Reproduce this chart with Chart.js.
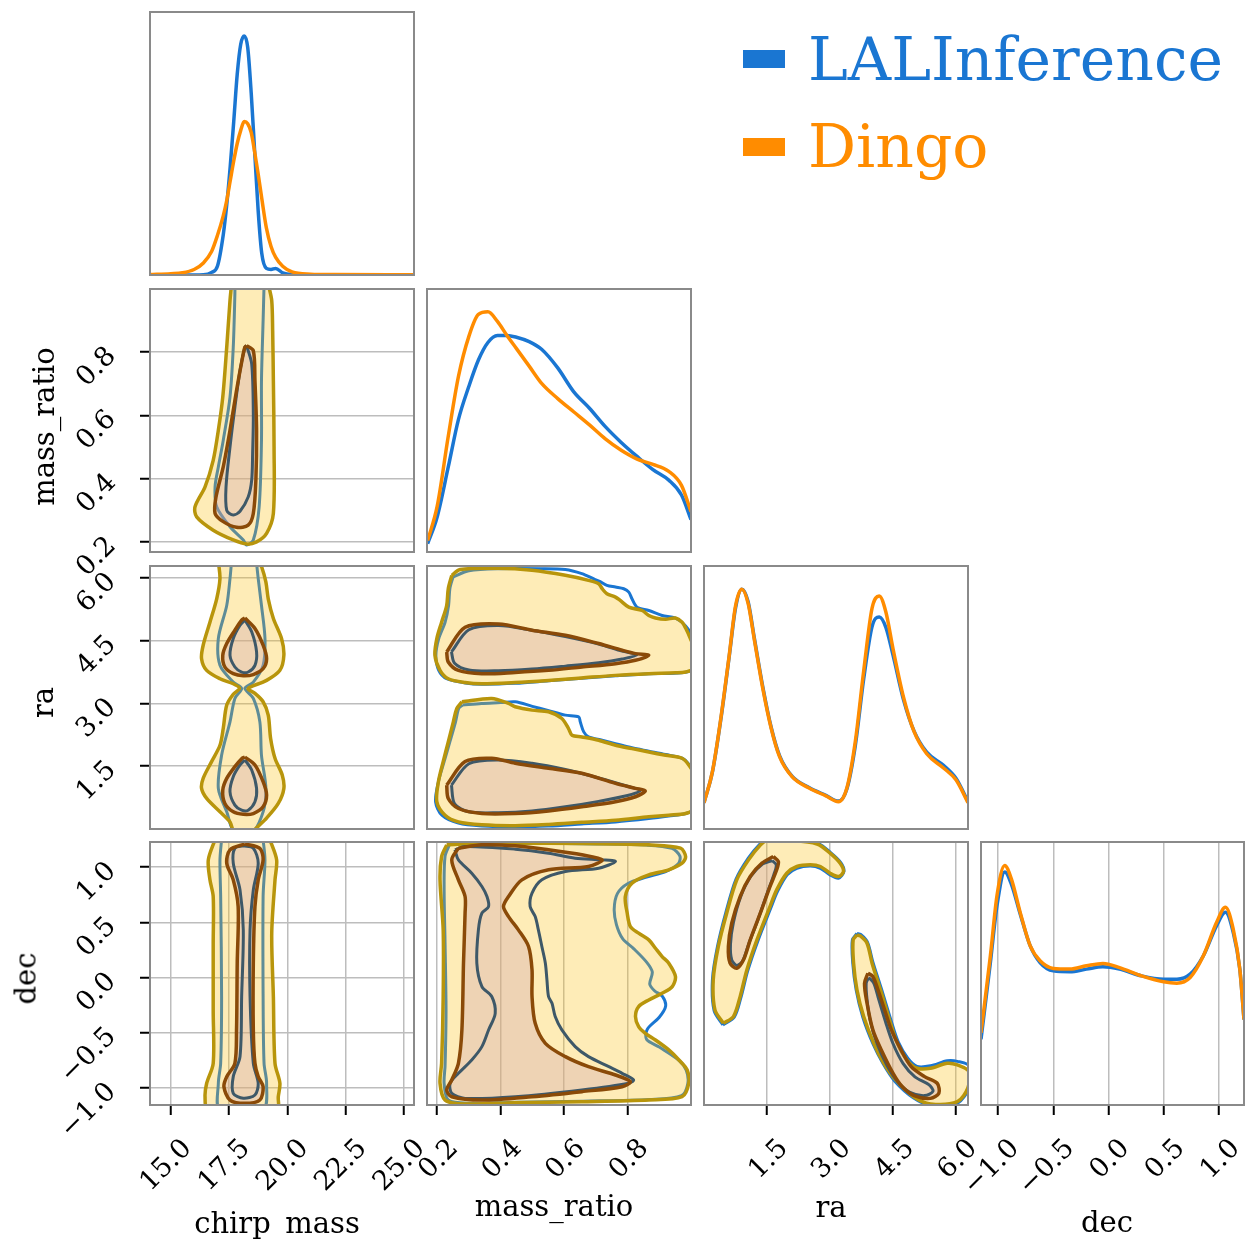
<!DOCTYPE html>
<html><head><meta charset="utf-8">
<script src="https://cdn.jsdelivr.net/npm/chart.js@4.4.0/dist/chart.umd.min.js"></script>
<style>
html,body{margin:0;padding:0;background:#fff;overflow:hidden;}
#wrap{position:relative;width:1245px;height:1239px;background:#fff;overflow:hidden;}
canvas{position:absolute;left:0;top:0;}
.t{position:absolute;font-family:'DejaVu Serif',serif;white-space:nowrap;line-height:1;color:#000;}
</style></head><body><div id="wrap"></div>
<script>
// ---------------- DATA ----------------
const params = ['chirp_mass', 'mass_ratio', 'ra', 'dec'];
const seriesNames = ['LALInference', 'Dingo'];
const axisRanges = { chirp_mass: [14.11, 25.43], mass_ratio: [0.168, 1.0], ra: [0, 6.283], dec: [-1.155, 1.228] };
const tickValues = { chirp_mass: [15, 17.5, 20, 22.5, 25], mass_ratio: [0.2, 0.4, 0.6, 0.8], ra: [1.5, 3.0, 4.5, 6.0], dec: [-1, -0.5, 0, 0.5, 1] };
const diagMax = { chirp_mass: 1.2, mass_ratio: 3.0, ra: 0.5, dec: 1.2 };

// 1D marginal densities
const chirpGrid  = [14.1, 15.0, 15.5, 16.0, 16.4, 16.75, 17.0, 17.25, 17.4, 17.55, 17.7, 17.85, 18.0, 18.15, 18.3, 18.45, 18.6, 18.75, 18.9, 19.1, 19.3, 19.5, 19.8, 20.2, 21.0, 22.0, 25.4];
const chirpLAL   = [0, 0, 0, 0, 0.001, 0.012, 0.04, 0.183, 0.32, 0.495, 0.70, 0.916, 1.053, 1.091, 1.038, 0.83, 0.56, 0.29, 0.10, 0.03, 0.025, 0.03, 0.01, 0.002, 0, 0, 0];
const chirpDingo = [0.002, 0.006, 0.01, 0.025, 0.055, 0.107, 0.18, 0.27, 0.34, 0.43, 0.52, 0.60, 0.66, 0.70, 0.69, 0.65, 0.56, 0.46, 0.351, 0.215, 0.13, 0.08, 0.04, 0.014, 0.004, 0.002, 0.001];

const massGrid  = [0.17, 0.2, 0.235, 0.267, 0.3, 0.33, 0.36, 0.39, 0.42, 0.45, 0.49, 0.53, 0.58, 0.63, 0.68, 0.73, 0.78, 0.83, 0.88, 0.93, 0.97, 1.0];
const massLAL   = [0.095, 0.40, 0.97, 1.51, 1.89, 2.19, 2.39, 2.47, 2.47, 2.45, 2.40, 2.31, 2.10, 1.83, 1.64, 1.43, 1.25, 1.09, 0.94, 0.82, 0.65, 0.37];
const massDingo = [0.13, 0.52, 1.32, 2.00, 2.46, 2.71, 2.74, 2.63, 2.47, 2.32, 2.12, 1.92, 1.75, 1.60, 1.45, 1.29, 1.16, 1.06, 1.00, 0.92, 0.76, 0.46];

const raGrid  = [0, 0.2, 0.4, 0.6, 0.75, 0.9, 1.05, 1.2, 1.4, 1.6, 1.8, 2.1, 2.5, 2.9, 3.2, 3.4, 3.6, 3.8, 4.0, 4.17, 4.33, 4.5, 4.75, 5.0, 5.3, 5.7, 6.0, 6.283];
const raLAL   = [0.050, 0.108, 0.208, 0.328, 0.420, 0.456, 0.432, 0.362, 0.270, 0.193, 0.139, 0.100, 0.079, 0.064, 0.053, 0.076, 0.158, 0.285, 0.385, 0.403, 0.383, 0.330, 0.245, 0.186, 0.146, 0.121, 0.096, 0.052];
const raDingo = [0.050, 0.109, 0.210, 0.330, 0.424, 0.456, 0.429, 0.359, 0.267, 0.191, 0.137, 0.099, 0.078, 0.063, 0.052, 0.078, 0.166, 0.300, 0.420, 0.443, 0.412, 0.342, 0.250, 0.185, 0.143, 0.116, 0.093, 0.050];

const decGrid  = [-1.155, -1.07, -1.01, -0.94, -0.88, -0.8, -0.71, -0.62, -0.5, -0.35, -0.2, -0.05, 0.1, 0.3, 0.5, 0.62, 0.74, 0.86, 0.98, 1.06, 1.13, 1.19, 1.228];
const decLAL   = [0.30, 0.650, 0.910, 1.063, 1.008, 0.872, 0.727, 0.650, 0.612, 0.608, 0.620, 0.631, 0.620, 0.589, 0.574, 0.574, 0.597, 0.681, 0.818, 0.879, 0.788, 0.620, 0.39];
const decDingo = [0.33, 0.681, 0.956, 1.093, 1.032, 0.879, 0.727, 0.658, 0.623, 0.620, 0.635, 0.646, 0.627, 0.589, 0.562, 0.556, 0.582, 0.681, 0.834, 0.902, 0.803, 0.620, 0.39];

// 2D credible contours (outer / inner), each a list of closed pieces of [x, y]
const mqChirpLalOuter = [[[17.75,1.01],[17.75,0.984],[17.68,0.816],[17.54,0.658],[17.25,0.521],[17.04,0.437],[16.90,0.374],[16.97,0.311],[17.54,0.248],[18.11,0.206],[18.25,0.19],[18.54,0.206],[18.79,0.311],[18.89,0.521],[18.89,0.71],[18.96,0.90],[19.0,1.01]]];
const mqChirpLalInner = [[[18.25,0.821],[18.47,0.763],[18.54,0.605],[18.51,0.479],[18.47,0.395],[18.32,0.342],[17.97,0.297],[17.68,0.285],[17.40,0.300],[17.37,0.374],[17.54,0.500],[17.75,0.626],[17.97,0.742],[18.18,0.816],[18.25,0.821]]];
const mqChirpDingoOuter = [[[17.6,1.01],[17.54,0.963],[17.40,0.816],[17.23,0.658],[17.04,0.553],[16.82,0.458],[16.47,0.374],[16.04,0.311],[16.11,0.279],[16.82,0.237],[17.68,0.206],[18.25,0.193],[18.68,0.20],[19.11,0.227],[19.40,0.29],[19.43,0.50],[19.40,0.71],[19.37,0.868],[19.33,0.963],[19.2,1.01]]];
const mqChirpDingoInner = [[[18.25,0.821],[18.54,0.805],[18.61,0.71],[18.68,0.553],[18.65,0.395],[18.54,0.29],[18.32,0.253],[17.82,0.246],[17.25,0.264],[16.90,0.29],[16.94,0.342],[17.25,0.437],[17.54,0.553],[17.82,0.679],[18.08,0.784],[18.18,0.816],[18.25,0.821]]];

const raChirpLalOuter = [[[17.6,6.35],[17.54,5.98],[17.40,5.34],[17.04,4.55],[17.11,3.91],[17.68,3.51],[18.04,3.36],[17.75,3.12],[17.54,2.56],[17.18,1.76],[17.04,0.97],[17.40,0.41],[17.75,-0.1],[18.47,-0.1],[18.96,0.41],[19.08,0.97],[18.89,1.76],[18.82,2.56],[18.54,3.12],[18.18,3.36],[18.54,3.51],[18.96,3.91],[19.04,4.55],[18.89,5.34],[18.75,5.98],[18.68,6.35]]];
const raChirpLalInner = [
  [[18.18,4.99],[18.47,4.71],[18.68,4.23],[18.61,3.91],[18.32,3.75],[18.04,3.75],[17.75,3.87],[17.54,4.15],[17.68,4.55],[17.97,4.87],[18.18,4.99]],
  [[18.18,1.65],[18.47,1.41],[18.68,0.97],[18.61,0.65],[18.32,0.45],[18.04,0.45],[17.75,0.57],[17.54,0.89],[17.68,1.25],[17.97,1.53],[18.18,1.65]]];
const raChirpDingoOuter = [[[17.05,6.35],[17.11,5.98],[16.97,5.50],[16.68,4.94],[16.39,4.39],[16.32,4.07],[16.54,3.79],[17.11,3.59],[17.68,3.47],[17.95,3.36],[17.68,3.22],[17.40,2.96],[17.25,2.40],[17.11,2.00],[16.75,1.61],[16.39,1.21],[16.32,0.97],[16.54,0.73],[17.11,0.41],[17.54,0.17],[17.75,-0.10],[18.50,-0.10],[18.61,-0.01],[19.11,0.26],[19.61,0.61],[19.85,0.97],[19.78,1.29],[19.47,1.69],[19.28,2.17],[19.18,2.72],[18.96,3.04],[18.61,3.24],[18.32,3.34],[18.40,3.39],[19.11,3.55],[19.68,3.79],[19.85,4.15],[19.75,4.55],[19.40,5.03],[19.18,5.50],[19.08,5.90],[18.90,6.26],[18.80,6.35]]];
const raChirpDingoInner = [
  [[18.18,5.04],[18.61,4.79],[18.96,4.39],[19.11,4.07],[18.96,3.83],[18.54,3.69],[18.11,3.66],[17.68,3.71],[17.32,3.87],[17.23,4.15],[17.40,4.43],[17.75,4.75],[18.04,4.99],[18.18,5.04]],
  [[18.18,1.72],[18.61,1.53],[18.96,1.13],[19.11,0.81],[18.96,0.53],[18.54,0.37],[18.11,0.35],[17.68,0.41],[17.32,0.61],[17.23,0.93],[17.40,1.21],[17.75,1.49],[18.04,1.68],[18.18,1.72]]];

const decChirpLalOuter = [[[17.18,1.25],[17.11,1.066],[17.14,0.734],[17.18,-0.173],[17.14,-0.777],[17.04,-0.958],[17.11,-1.2],[18.96,-1.2],[19.11,-0.958],[19.0,-0.777],[18.96,-0.173],[18.96,0.734],[19.04,1.066],[18.96,1.25]]];
const decChirpLalInner = [[[18.11,1.193],[18.54,1.172],[18.75,1.036],[18.54,0.794],[18.40,0.431],[18.40,-0.173],[18.54,-0.777],[18.75,-0.958],[18.61,-1.064],[18.11,-1.094],[17.68,-1.049],[17.68,-0.898],[17.97,-0.717],[18.04,-0.173],[18.11,0.431],[17.97,0.794],[17.68,1.036],[17.75,1.172],[18.11,1.193]]];
const decChirpDingoOuter = [[[16.9,1.25],[16.61,1.066],[16.68,0.885],[16.82,0.734],[16.82,0.3],[16.82,-0.3],[16.82,-0.777],[16.54,-0.958],[16.47,-1.08],[16.6,-1.2],[19.55,-1.2],[19.61,-1.08],[19.68,-0.958],[19.47,-0.777],[19.40,-0.173],[19.33,0.4],[19.47,0.885],[19.54,1.066],[19.25,1.25]]];
const decChirpDingoInner = [[[18.18,1.21],[18.82,1.17],[18.96,1.066],[18.75,0.885],[18.61,0.643],[18.54,0.129],[18.54,-0.475],[18.61,-0.777],[18.75,-0.898],[18.96,-0.989],[18.82,-1.11],[18.18,-1.14],[17.54,-1.11],[17.28,-0.989],[17.40,-0.898],[17.75,-0.777],[17.82,-0.475],[17.85,0.129],[17.89,0.643],[17.68,0.885],[17.40,1.036],[17.54,1.157],[18.18,1.21]]];

const raMqLalOuter = [
  [[0.25,6.02],[0.30,6.17],[0.40,6.22],[0.525,6.22],[0.604,6.20],[0.656,6.10],[0.698,5.96],[0.714,5.91],[0.735,5.82],[0.762,5.78],[0.788,5.74],[0.804,5.66],[0.814,5.50],[0.830,5.30],[0.867,5.22],[0.909,5.10],[0.951,5.04],[0.983,4.85],[1.01,4.5],[1.01,3.85],[0.97,3.73],[0.867,3.71],[0.762,3.66],[0.656,3.60],[0.551,3.54],[0.446,3.48],[0.341,3.46],[0.288,3.49],[0.230,3.59],[0.205,3.79],[0.196,4.15],[0.205,4.55],[0.225,4.94],[0.236,5.34],[0.240,5.74],[0.25,6.02]],
  [[0.28,2.96],[0.34,3.00],[0.40,3.02],[0.446,3.04],[0.50,2.93],[0.546,2.84],[0.604,2.72],[0.646,2.68],[0.651,2.56],[0.662,2.32],[0.677,2.20],[0.720,2.12],[0.762,2.04],[0.814,1.94],[0.867,1.86],[0.920,1.78],[0.972,1.69],[0.993,1.55],[1.01,1.3],[1.01,0.5],[0.983,0.37],[0.930,0.31],[0.867,0.25],[0.762,0.17],[0.656,0.12],[0.551,0.07],[0.446,0.05],[0.341,0.07],[0.267,0.14],[0.215,0.33],[0.195,0.65],[0.204,1.13],[0.222,1.61],[0.240,2.08],[0.258,2.56],[0.268,2.88],[0.28,2.96]]];
const raMqLalInner = [
  [[0.245,4.23],[0.30,4.76],[0.393,4.86],[0.499,4.75],[0.604,4.60],[0.709,4.42],[0.783,4.25],[0.83,4.16],[0.783,4.06],[0.709,3.97],[0.604,3.89],[0.499,3.82],[0.393,3.78],[0.30,3.80],[0.255,3.96],[0.245,4.23]],
  [[0.245,1.05],[0.30,1.56],[0.393,1.65],[0.499,1.57],[0.604,1.42],[0.709,1.22],[0.80,1.02],[0.84,0.92],[0.80,0.80],[0.709,0.66],[0.604,0.53],[0.499,0.43],[0.393,0.39],[0.30,0.41],[0.255,0.60],[0.245,1.05]]];
const raMqDingoOuter = [
  [[0.246,6.06],[0.272,6.20],[0.393,6.23],[0.499,6.18],[0.604,6.06],[0.677,5.94],[0.709,5.86],[0.720,5.74],[0.735,5.62],[0.762,5.54],[0.777,5.46],[0.804,5.30],[0.846,5.22],[0.867,5.10],[0.888,5.04],[0.920,5.01],[0.951,5.04],[0.972,4.94],[0.983,4.80],[0.998,4.55],[1.01,4.3],[1.01,3.85],[0.983,3.75],[0.951,3.73],[0.867,3.71],[0.762,3.67],[0.656,3.61],[0.551,3.55],[0.446,3.50],[0.341,3.47],[0.288,3.50],[0.235,3.59],[0.209,3.79],[0.193,4.15],[0.199,4.55],[0.214,4.94],[0.230,5.34],[0.235,5.74],[0.246,6.06]],
  [[0.278,3.04],[0.372,3.12],[0.425,3.00],[0.446,2.92],[0.499,2.84],[0.551,2.80],[0.593,2.64],[0.614,2.40],[0.625,2.24],[0.656,2.20],[0.709,2.12],[0.762,2.00],[0.814,1.92],[0.867,1.84],[0.920,1.76],[0.972,1.69],[0.993,1.53],[1.01,1.29],[1.01,0.49],[0.983,0.37],[0.930,0.33],[0.867,0.29],[0.762,0.21],[0.656,0.16],[0.551,0.11],[0.446,0.08],[0.341,0.10],[0.267,0.17],[0.225,0.33],[0.199,0.65],[0.204,1.13],[0.219,1.61],[0.235,2.08],[0.251,2.56],[0.262,2.88],[0.278,3.04]]];
const raMqDingoInner = [
  [[0.230,4.23],[0.288,4.82],[0.393,4.90],[0.499,4.75],[0.604,4.63],[0.709,4.43],[0.783,4.27],[0.825,4.19],[0.867,4.15],[0.825,4.03],[0.762,3.95],[0.656,3.87],[0.551,3.79],[0.446,3.74],[0.341,3.71],[0.267,3.79],[0.235,3.99],[0.230,4.23]],
  [[0.230,1.05],[0.288,1.61],[0.372,1.69],[0.446,1.57],[0.551,1.45],[0.656,1.33],[0.762,1.09],[0.825,0.97],[0.856,0.91],[0.825,0.77],[0.762,0.65],[0.656,0.53],[0.551,0.43],[0.446,0.37],[0.341,0.37],[0.267,0.49],[0.235,0.73],[0.230,1.05]]];

const decMqLalOuter = [[[0.24,1.21],[0.225,1.10],[0.222,0.80],[0.225,0.30],[0.228,-0.30],[0.225,-0.80],[0.222,-0.96],[0.235,-1.11],[0.30,-1.14],[0.45,-1.13],[0.66,-1.12],[0.87,-1.105],[0.97,-1.07],[0.99,-0.96],[0.985,-0.84],[0.962,-0.75],[0.90,-0.63],[0.86,-0.56],[0.862,-0.47],[0.90,-0.36],[0.92,-0.26],[0.91,-0.17],[0.885,-0.12],[0.87,-0.06],[0.878,0.05],[0.86,0.14],[0.82,0.26],[0.785,0.35],[0.765,0.48],[0.758,0.62],[0.768,0.76],[0.80,0.85],[0.86,0.91],[0.92,0.96],[0.96,1.03],[0.965,1.10],[0.94,1.17],[0.86,1.20],[0.70,1.21],[0.50,1.215],[0.24,1.21]]];
const decMqLalInner = [[[0.256,1.157],[0.288,1.187],[0.446,1.163],[0.551,1.127],[0.635,1.081],[0.720,1.066],[0.762,1.051],[0.709,0.991],[0.604,0.960],[0.530,0.885],[0.499,0.764],[0.493,0.643],[0.509,0.552],[0.519,0.432],[0.530,0.281],[0.541,0.130],[0.546,-0.021],[0.551,-0.172],[0.562,-0.233],[0.572,-0.354],[0.593,-0.475],[0.635,-0.626],[0.677,-0.717],[0.741,-0.808],[0.783,-0.868],[0.819,-0.928],[0.804,-0.958],[0.656,-1.019],[0.446,-1.080],[0.288,-1.095],[0.246,-1.049],[0.241,-0.958],[0.267,-0.868],[0.309,-0.747],[0.341,-0.626],[0.362,-0.475],[0.383,-0.324],[0.372,-0.172],[0.341,-0.082],[0.325,0.130],[0.330,0.432],[0.341,0.583],[0.362,0.643],[0.357,0.734],[0.341,0.825],[0.309,0.945],[0.267,1.066],[0.256,1.157]]];
const decMqDingoOuter = [[[0.230,1.202],[0.214,1.096],[0.209,0.885],[0.219,0.432],[0.219,-0.172],[0.214,-0.777],[0.209,-0.958],[0.225,-1.110],[0.288,-1.146],[0.446,-1.134],[0.656,-1.125],[0.867,-1.110],[0.972,-1.080],[0.993,-0.958],[0.988,-0.838],[0.962,-0.747],[0.930,-0.656],[0.888,-0.566],[0.856,-0.505],[0.835,-0.445],[0.825,-0.354],[0.835,-0.263],[0.867,-0.203],[0.909,-0.142],[0.941,-0.082],[0.951,0.009],[0.930,0.130],[0.909,0.190],[0.888,0.265],[0.867,0.341],[0.835,0.402],[0.809,0.462],[0.799,0.583],[0.793,0.734],[0.814,0.855],[0.867,0.930],[0.930,0.976],[0.972,1.036],[0.983,1.096],[0.967,1.172],[0.867,1.202],[0.762,1.211],[0.551,1.217],[0.341,1.217],[0.230,1.202]]];
const decMqDingoInner = [[[0.267,1.172],[0.341,1.202],[0.446,1.193],[0.551,1.157],[0.656,1.112],[0.720,1.066],[0.677,1.006],[0.551,0.976],[0.467,0.885],[0.425,0.734],[0.409,0.643],[0.425,0.552],[0.456,0.432],[0.488,0.281],[0.499,0.069],[0.499,-0.172],[0.509,-0.415],[0.541,-0.596],[0.604,-0.717],[0.677,-0.808],[0.762,-0.883],[0.809,-0.944],[0.783,-0.989],[0.656,-1.034],[0.499,-1.080],[0.341,-1.110],[0.246,-1.080],[0.230,-1.019],[0.246,-0.928],[0.267,-0.777],[0.278,-0.475],[0.283,0.130],[0.288,0.583],[0.288,0.734],[0.267,0.885],[0.246,1.066],[0.267,1.172]]];

const decRaLalOuter = [
  [[0.45,-0.43],[0.24,-0.30],[0.20,-0.02],[0.32,0.28],[0.52,0.59],[0.76,0.89],[1.05,1.08],[1.33,1.21],[1.49,1.25],[2.05,1.25],[2.69,1.22],[3.02,1.13],[3.26,1.04],[3.33,0.96],[3.20,0.90],[3.0,0.93],[2.77,0.99],[2.53,1.01],[2.21,0.99],[1.98,0.93],[1.75,0.78],[1.59,0.63],[1.28,0.33],[1.04,0.06],[0.88,-0.18],[0.72,-0.36],[0.45,-0.43]],
  [[3.64,0.40],[3.53,0.34],[3.54,0.13],[3.62,-0.11],[3.78,-0.36],[4.02,-0.60],[4.26,-0.78],[4.54,-0.94],[4.98,-1.09],[5.39,-1.16],[6.03,-1.14],[6.3,-1.0],[6.3,-0.80],[6.03,-0.76],[5.79,-0.755],[5.39,-0.80],[5.07,-0.805],[4.85,-0.73],[4.62,-0.58],[4.46,-0.40],[4.22,-0.10],[4.02,0.14],[3.89,0.32],[3.73,0.39],[3.64,0.40]]];
const decRaLalInner = [
  [[1.62,1.06],[1.72,1.02],[1.66,0.93],[1.50,0.76],[1.28,0.52],[1.06,0.30],[0.92,0.15],[0.78,0.11],[0.66,0.16],[0.63,0.30],[0.70,0.50],[0.88,0.74],[1.12,0.92],[1.40,1.03],[1.62,1.06]],
  [[3.92,0.00],[4.04,-0.05],[4.16,-0.20],[4.32,-0.40],[4.50,-0.60],[4.74,-0.78],[5.02,-0.90],[5.35,-0.97],[5.45,-1.03],[5.25,-1.07],[4.90,-1.04],[4.62,-0.95],[4.36,-0.80],[4.12,-0.60],[3.96,-0.40],[3.88,-0.20],[3.86,-0.05],[3.92,0.0]]];
const decRaDingoOuter = [
  [[0.46,-0.414],[0.26,-0.294],[0.22,-0.022],[0.34,0.280],[0.54,0.583],[0.78,0.885],[1.06,1.066],[1.34,1.20],[1.49,1.24],[2.05,1.24],[2.69,1.21],[3.0,1.127],[3.24,1.036],[3.32,0.960],[3.20,0.915],[3.0,0.945],[2.77,1.006],[2.53,1.021],[2.21,1.006],[1.97,0.945],[1.73,0.794],[1.57,0.643],[1.26,0.341],[1.02,0.069],[0.86,-0.173],[0.70,-0.354],[0.46,-0.414]],
  [[3.64,0.386],[3.55,0.341],[3.56,0.130],[3.64,-0.112],[3.80,-0.354],[4.04,-0.596],[4.28,-0.777],[4.56,-0.928],[4.99,-1.080],[5.39,-1.146],[6.03,-1.125],[6.28,-1.0],[6.3,-0.85],[6.03,-0.792],[5.79,-0.777],[5.39,-0.822],[5.07,-0.822],[4.83,-0.747],[4.60,-0.596],[4.44,-0.414],[4.20,-0.112],[4.0,0.130],[3.88,0.311],[3.72,0.377],[3.64,0.386]]];
const decRaDingoInner = [
  [[1.65,1.096],[1.77,1.051],[1.73,0.976],[1.57,0.824],[1.34,0.583],[1.10,0.341],[0.94,0.160],[0.78,0.084],[0.62,0.130],[0.58,0.280],[0.66,0.492],[0.86,0.734],[1.10,0.915],[1.38,1.036],[1.65,1.096]],
  [[3.90,0.039],[4.02,0.009],[4.14,-0.112],[4.30,-0.294],[4.46,-0.475],[4.69,-0.656],[4.93,-0.808],[5.25,-0.898],[5.55,-0.958],[5.59,-1.049],[5.39,-1.095],[5.0,-1.07],[4.72,-0.99],[4.50,-0.868],[4.22,-0.656],[4.02,-0.475],[3.88,-0.233],[3.82,-0.052],[3.90,0.039]]];

// ---------------- LOOKUP TABLES ----------------
const diagTable = {
  chirp_mass: [chirpGrid, chirpLAL, chirpDingo],
  mass_ratio: [massGrid, massLAL, massDingo],
  ra: [raGrid, raLAL, raDingo],
  dec: [decGrid, decLAL, decDingo]
};
const contourTable = {
  'mass_ratio|chirp_mass': [mqChirpLalOuter, mqChirpLalInner, mqChirpDingoOuter, mqChirpDingoInner],
  'ra|chirp_mass': [raChirpLalOuter, raChirpLalInner, raChirpDingoOuter, raChirpDingoInner],
  'dec|chirp_mass': [decChirpLalOuter, decChirpLalInner, decChirpDingoOuter, decChirpDingoInner],
  'ra|mass_ratio': [raMqLalOuter, raMqLalInner, raMqDingoOuter, raMqDingoInner],
  'dec|mass_ratio': [decMqLalOuter, decMqLalInner, decMqDingoOuter, decMqDingoInner],
  'dec|ra': [decRaLalOuter, decRaLalInner, decRaDingoOuter, decRaDingoInner]
};

// ---------------- STYLE / LAYOUT ----------------
const PAGE_W = 1245, PAGE_H = 1239;
const colLeft = [150, 427, 704, 981], colWidth = [264, 264, 264, 263];
const rowTop = [12, 289, 566, 842], rowHeight = 263;
const Y_AXIS_W = 140, X_AXIS_H = 110;
const FONT = 'DejaVu Serif';
const TICK_SIZE = 27;
const BLUE = '#1a76d2', ORANGE = '#ff8c00';
const GOLD = '#b8950b', BROWN = '#8a4a08', SLATE = '#3e5868';
const FILL_OUT = 'rgba(251,192,15,0.30)', FILL_IN = 'rgba(205,160,175,0.32)';

function fmt(v) { return (v < 0 ? '\u2212' : '') + Math.abs(v).toFixed(1); }
function toPts(arr) { return arr.map(p => ({ x: p[0], y: p[1] })); }

const framePlugin = {
  id: 'frame',
  afterDraw(c) {
    const a = c.chartArea, ctx = c.ctx;
    ctx.save(); ctx.strokeStyle = '#8a8a8a'; ctx.lineWidth = 2;
    ctx.strokeRect(a.left, a.top, a.right - a.left, a.bottom - a.top);
    ctx.restore();
  }
};

function axisCfg(key, show, isX) {
  const [min, max] = axisRanges[key];
  return {
    type: 'linear', min, max, display: show,
    afterBuildTicks: s => { s.ticks = tickValues[key].map(v => ({ value: v })); },
    afterFit: s => {
      if (isX) s.height = show ? X_AXIS_H : 0; else s.width = show ? Y_AXIS_W : 0;
      s.paddingLeft = 0; s.paddingRight = 0; s.paddingTop = 0; s.paddingBottom = 0;
    },
    grid: { color: '#bdbdbd', lineWidth: 1.5, tickLength: 10, tickColor: '#000', tickWidth: 2, drawOnChartArea: true },
    border: { display: false },
    ticks: {
      autoSkip: false, minRotation: 45, maxRotation: 45,
      padding: isX ? 18 : 28, labelOffset: isX ? 17 : 0,
      font: { family: FONT, size: TICK_SIZE }, color: '#000',
      callback: v => fmt(v)
    }
  };
}

function lineDs(piece, color, width, fillColor) {
  return {
    data: toPts(piece), showLine: true, pointRadius: 0,
    borderColor: color, borderWidth: width,
    fill: fillColor ? 'shape' : false,
    backgroundColor: fillColor || 'transparent',
    tension: 0.3
  };
}

const wrap = document.getElementById('wrap');
for (let i = 0; i < 4; i++) {
  for (let j = 0; j <= i; j++) {
    const xKey = params[j], yKey = params[i];
    const L = colLeft[j], T = rowTop[i], pw = colWidth[j], ph = rowHeight;
    const showX = i === 3, showY = (j === 0 && i > 0);
    let datasets = [];
    let yScale;
    if (i === j) {
      const [grid, lal, dingo] = diagTable[xKey];
      const mk = (vals, color) => ({
        data: grid.map((g, k) => ({ x: g, y: vals[k] })), showLine: true, pointRadius: 0,
        borderColor: color, borderWidth: 3.5, fill: false, cubicInterpolationMode: 'monotone'
      });
      datasets = [mk(lal, BLUE), mk(dingo, ORANGE)];
      yScale = { type: 'linear', min: 0, max: diagMax[xKey], display: false };
    } else {
      const [lalOut, lalIn, dOut, dIn] = contourTable[yKey + '|' + xKey];
      lalOut.forEach(p => datasets.push(lineDs(p, BLUE, 3)));
      dOut.forEach(p => datasets.push(lineDs(p, GOLD, 3.5, FILL_OUT)));
      dIn.forEach(p => datasets.push(lineDs(p, 'transparent', 0.01, FILL_IN)));
      lalIn.forEach(p => datasets.push(lineDs(p, SLATE, 3)));
      dIn.forEach(p => datasets.push(lineDs(p, BROWN, 3.5)));
      yScale = axisCfg(yKey, showY, false);
    }
    const n = datasets.length;
    datasets.forEach((d, k) => { d.order = n - 1 - k; });

    const padL = showY ? L - Y_AXIS_W : L;
    const padB = PAGE_H - T - ph - (showX ? X_AXIS_H : 0);

    const cv = document.createElement('canvas');
    cv.width = PAGE_W; cv.height = PAGE_H;
    cv.style.width = PAGE_W + 'px'; cv.style.height = PAGE_H + 'px';
    wrap.appendChild(cv);
    new Chart(cv.getContext('2d'), {
      type: 'scatter',
      data: { datasets },
      options: {
        responsive: false, animation: false, events: [], devicePixelRatio: 1,
        layout: { padding: { left: padL, top: T, right: PAGE_W - L - pw, bottom: padB } },
        plugins: { legend: { display: false }, tooltip: { enabled: false } },
        elements: { line: { capBezierPoints: false } },
        scales: { x: axisCfg(xKey, showX, true), y: yScale }
      },
      plugins: [framePlugin]
    });
  }
}

// ---------------- TEXT: axis labels & legend ----------------
function addText(txt, size, color, cx, baseline, rotate) {
  const d = document.createElement('div');
  d.className = 't'; d.textContent = txt;
  d.style.fontSize = size + 'px'; d.style.color = color;
  const W = 400;
  d.style.width = W + 'px'; d.style.textAlign = 'center'; d.style.height = size + 'px';
  d.style.left = (cx - W / 2) + 'px';
  if (!rotate) {
    d.style.top = (baseline - 0.846 * size) + 'px';
  } else {
    d.style.top = (baseline - size / 2) + 'px';
    d.style.transform = 'rotate(-90deg)';
  }
  wrap.appendChild(d);
  return d;
}
addText('chirp_mass', 29, '#000', 277, 1234);
addText('mass_ratio', 29, '#000', 554, 1217);
addText('ra', 29, '#000', 831, 1218);
addText('dec', 29, '#000', 1107, 1233);
addText('mass_ratio', 29, '#000', 44, 426, true);
addText('ra', 29, '#000', 43, 702, true);
addText('dec', 29, '#000', 26, 978, true);

function addLegend(name, color, rectTop, baseline) {
  const r = document.createElement('div');
  r.style.cssText = 'position:absolute;left:743px;top:' + rectTop + 'px;width:42px;height:18px;background:' + color + ';';
  wrap.appendChild(r);
  const d = document.createElement('div');
  d.className = 't'; d.textContent = name; d.style.fontSize = '60px'; d.style.color = color;
  d.style.left = '808px'; d.style.top = (baseline - 0.846 * 60) + 'px';
  wrap.appendChild(d);
}
addLegend(seriesNames[0], BLUE, 50, 80);
addLegend(seriesNames[1], ORANGE, 138, 167);
</script>
</body></html>
